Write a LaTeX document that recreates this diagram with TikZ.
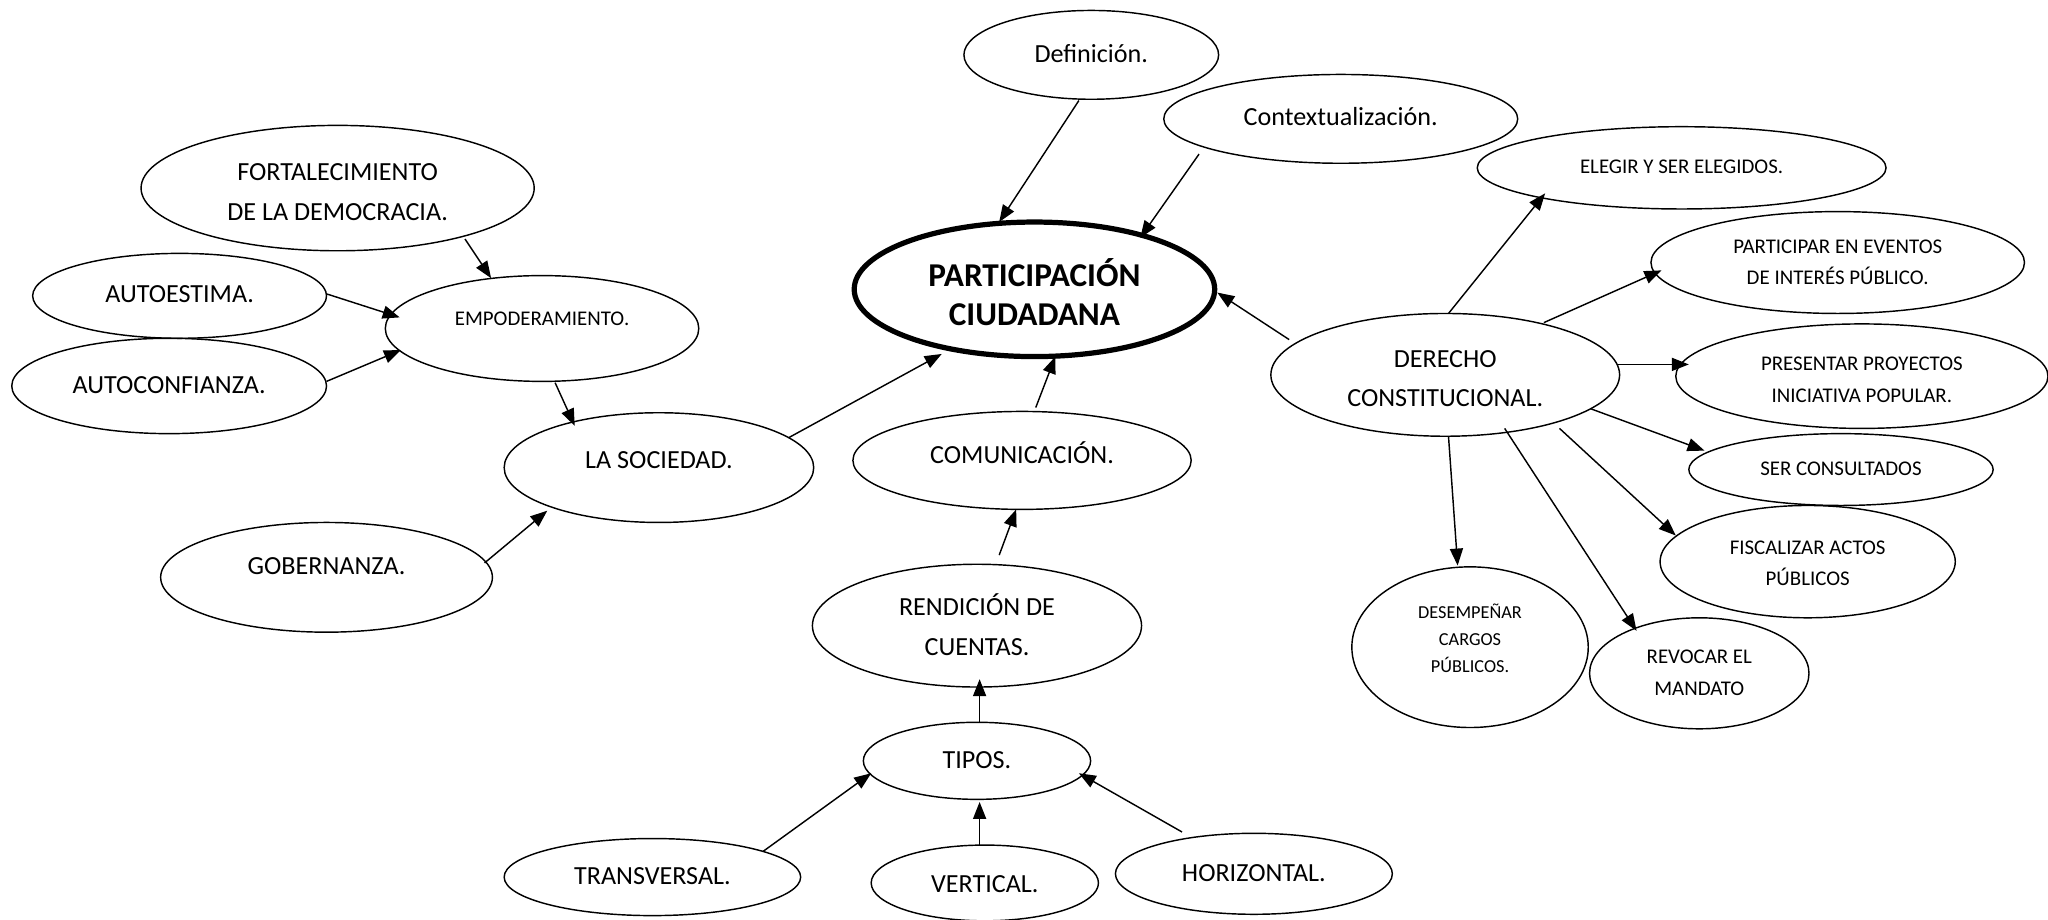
\documentclass[tikz,border=0pt]{standalone}
\usepackage{fontspec}
\setmainfont{Carlito}
\usetikzlibrary{shapes.geometric,arrows.meta}
\tikzset{
  ov/.style={ellipse, draw, line width=1.1pt, inner sep=0pt, align=center,
             font=\fontsize{20}{30}\selectfont},
  sm/.style={font=\fontsize{16}{24}\selectfont},
  xs/.style={font=\fontsize{14}{20.5}\selectfont},
  main/.style={line width=4pt, font=\bfseries\fontsize{25.5}{30}\selectfont},
  arr/.style={-{Triangle[length=13pt,width=10pt]}, line width=1.1pt},
  sz/.style 2 args={minimum width=#1pt, minimum height=#2pt},
}
\newcommand{\lift}[2]{\raisebox{#1pt}[\height][\depth]{\begin{tabular}{@{}c@{}}#2\end{tabular}}}
\begin{document}
\begin{tikzpicture}[x=1pt,y=-1pt]
\useasboundingbox (0,0) rectangle (1568,704);
% nodes
\node[ov,sz={195}{68}] (def) at (835.5,42) {\lift{0}{Definición.}};
\node[ov,sz={271}{68}] (ctx) at (1026.5,91) {\lift{1}{Contextualización.}};
\node[ov,main,sz={276}{103}] (pc) at (792,221.5) {\lift{-6.5}{PARTICIPACIÓN\\CIUDADANA}};
\node[ov,sm,sz={313}{63}] (eleg) at (1287.5,128.5) {\lift{0.5}{ELEGIR Y SER ELEGIDOS.}};
\node[ov,sm,sz={286}{78}] (part) at (1407,201) {\lift{0}{PARTICIPAR EN EVENTOS\\DE INTERÉS PÚBLICO.}};
\node[ov,sm,sz={285}{80}] (pres) at (1425.5,288) {\lift{-3}{PRESENTAR PROYECTOS\\INICIATIVA POPULAR.}};
\node[ov,sm,sz={233}{55}] (cons) at (1409.5,359.5) {\lift{0}{SER CONSULTADOS}};
\node[ov,sm,sz={226}{86}] (fisc) at (1384,430) {\lift{-1.5}{FISCALIZAR ACTOS\\PÚBLICOS}};
\node[ov,sz={267}{94}] (der) at (1106.5,287) {\lift{-3}{DERECHO\\CONSTITUCIONAL.}};
\node[ov,xs,sz={181}{123}] (des) at (1125.5,495.5) {\lift{5.5}{DESEMPEÑAR\\CARGOS\\PÚBLICOS.}};
\node[ov,sm,sz={168}{85}] (rev) at (1301,515.5) {\lift{0}{REVOCAR EL\\MANDATO}};
\node[ov,sz={301}{96}] (fort) at (258.5,144) {\lift{-3.5}{FORTALECIMIENTO\\DE LA DEMOCRACIA.}};
\node[ov,sz={225}{65}] (aest) at (137.5,226.5) {\lift{1}{AUTOESTIMA.}};
\node[ov,sm,sz={240}{81}] (emp) at (415,251.5) {\lift{7}{EMPODERAMIENTO.}};
\node[ov,sz={241}{73}] (aconf) at (129.5,295.5) {\lift{0}{AUTOCONFIANZA.}};
\node[ov,sz={237}{84}] (soc) at (504.5,358) {\lift{5}{LA SOCIEDAD.}};
\node[ov,sz={254}{84}] (gob) at (250,442) {\lift{8}{GOBERNANZA.}};
\node[ov,sz={259}{75}] (com) at (782.5,352.5) {\lift{3.5}{COMUNICACIÓN.}};
\node[ov,sz={252}{94}] (ren) at (748,479) {\lift{-1.5}{RENDICIÓN DE\\CUENTAS.}};
\node[ov,sz={174}{59}] (tip) at (748,582.5) {\lift{0}{TIPOS.}};
\node[ov,sz={227}{59}] (trans) at (499.5,671.5) {\lift{0}{TRANSVERSAL.}};
\node[ov,sz={174}{58}] (vert) at (754,676) {\lift{-1}{VERTICAL.}};
\node[ov,sz={212}{62}] (hor) at (960,669) {\lift{0}{HORIZONTAL.}};
% connectors
\draw[arr] ([shift={(-9.5,35)}]def.center) -- ([shift={(-27,-51.5)}]pc.center);
\draw[arr] ([shift={(-108.5,27)}]ctx.center) -- ([shift={(81,-39.5)}]pc.center);
\draw[arr] ([shift={(-119.5,-27)}]der.center) -- ([shift={(140,2.5)}]pc.center);
\draw[arr] ([shift={(2.5,-47)}]der.center) -- ([shift={(-104.5,19.5)}]eleg.center);
\draw[arr] ([shift={(75.5,-40)}]der.center) -- ([shift={(-135,6)}]part.center);
\draw[arr] ([shift={(131.5,-8)}]der.center) -- ([shift={(-132.5,-9)}]pres.center);
\draw[arr] ([shift={(111.5,26)}]der.center) -- ([shift={(-104.5,-14.5)}]cons.center);
\draw[arr] ([shift={(87.5,41)}]der.center) -- ([shift={(-101,-20)}]fisc.center);
\draw[arr] ([shift={(45.5,41)}]der.center) -- ([shift={(-48,-32.5)}]rev.center);
\draw[arr] ([shift={(2.5,47)}]der.center) -- ([shift={(-9.5,-62.5)}]des.center);
\draw[arr] ([shift={(97.5,39)}]fort.center) -- ([shift={(-39,-38.5)}]emp.center);
\draw[arr] ([shift={(112.5,-1.5)}]aest.center) -- ([shift={(-109,-8.5)}]emp.center);
\draw[arr] ([shift={(120.5,-3.5)}]aconf.center) -- ([shift={(-108,16.5)}]emp.center);
\draw[arr] ([shift={(10,41.5)}]emp.center) -- ([shift={(-64.5,-32)}]soc.center);
\draw[arr] ([shift={(121,-11)}]gob.center) -- ([shift={(-85.5,33)}]soc.center);
\draw[arr] ([shift={(99.5,-23)}]soc.center) -- ([shift={(-71,49.5)}]pc.center);
\draw[arr] ([shift={(10.5,-40.5)}]com.center) -- ([shift={(16,51.5)}]pc.center);
\draw[arr] ([shift={(17,-54)}]ren.center) -- ([shift={(-4.5,37.5)}]com.center);
\draw[arr] ([shift={(2,-29.5)}]tip.center) -- ([shift={(2,41)}]ren.center);
\draw[arr] ([shift={(84.5,-19.5)}]trans.center) -- ([shift={(-81,9.5)}]tip.center);
\draw[arr] ([shift={(-4,-29)}]vert.center) -- ([shift={(2,31.5)}]tip.center);
\draw[arr] ([shift={(-55,-32)}]hor.center) -- ([shift={(78,9.5)}]tip.center);
\end{tikzpicture}
\end{document}
